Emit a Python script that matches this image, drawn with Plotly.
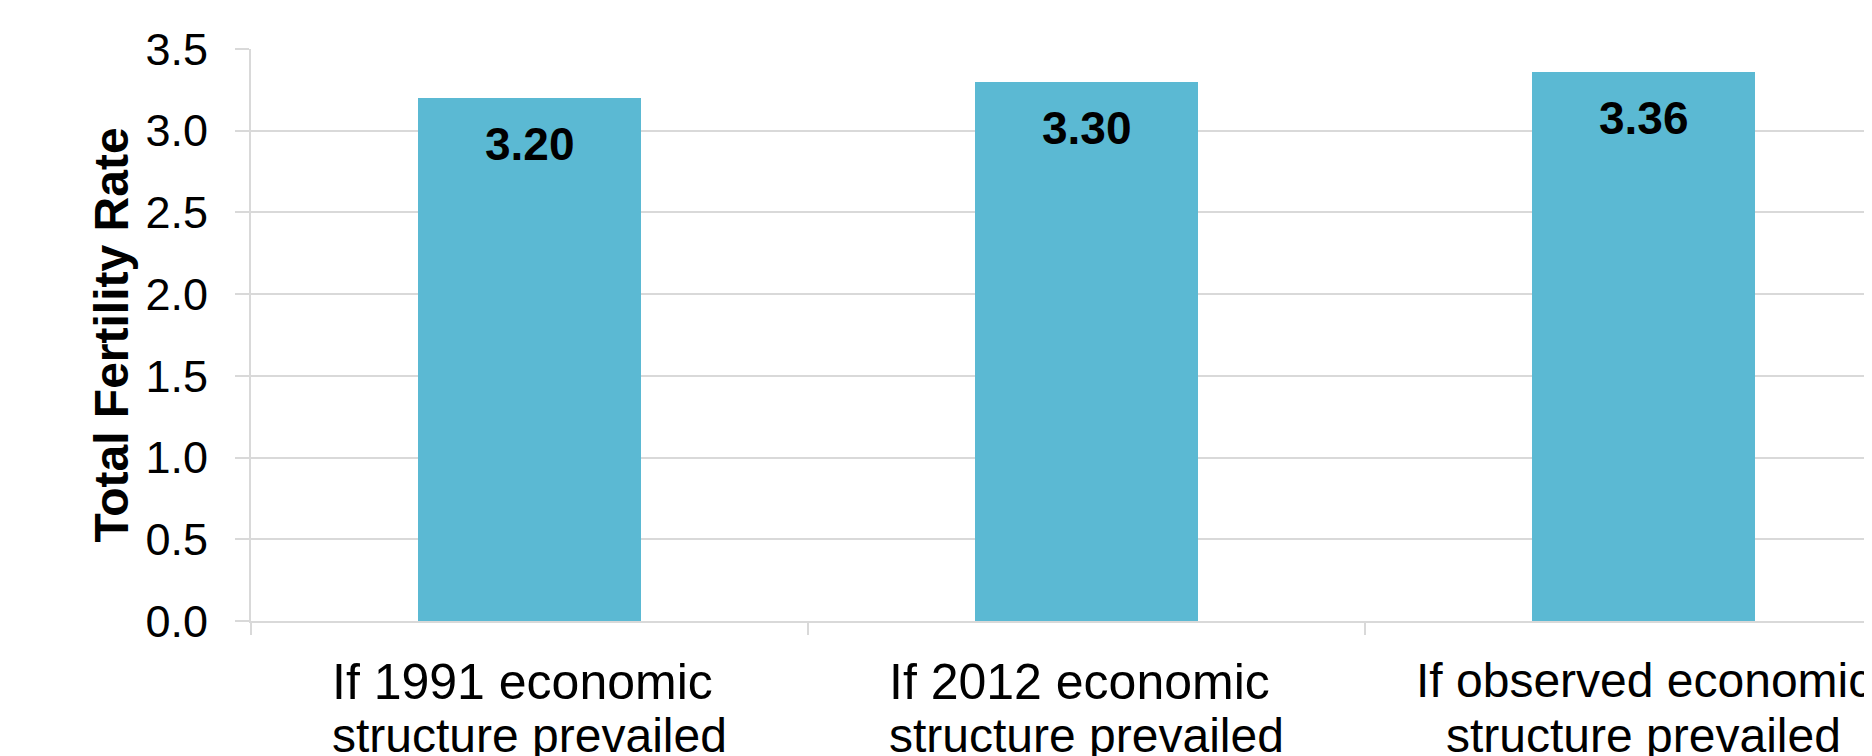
import plotly.graph_objects as go

categories = ["If 1991 economic structure prevailed",
              "If 2012 economic structure prevailed",
              "If observed economic structure prevailed"]
label_line1 = ["If 1991 economic", "If 2012 economic", "If observed economic"]
label_line2 = ["structure prevailed", "structure prevailed", "structure prevailed"]
tfr_values = [3.20, 3.30, 3.36]
y_ticks = [0.0, 0.5, 1.0, 1.5, 2.0, 2.5, 3.0, 3.5]
y_title = "Total Fertility Rate"

FONT = "Liberation Sans, Arial, sans-serif"
BAR = "#5bb9d3"
GRID = "#d9d9d9"
LINE1_SIZE = [50, 50, 48]
LINE1_SHIFT = [-7, -7, 0]

fig = go.Figure()
fig.add_trace(go.Bar(
    x=categories, y=tfr_values, width=0.402,
    marker=dict(color=BAR, line=dict(width=0)),
    hoverinfo="skip", showlegend=False,
))

for c, v in zip(categories, tfr_values):
    fig.add_annotation(
        x=c, y=v, xref="x", yref="y",
        text=f"<b>{v:.2f}</b>", showarrow=False,
        yanchor="top", yshift=-18,
        font=dict(family=FONT, size=46, color="black"),
    )

# two-line category labels (tight line spacing as in the reference)
for c, l1, l2, s1, dx in zip(categories, label_line1, label_line2, LINE1_SIZE, LINE1_SHIFT):
    fig.add_annotation(
        x=c, y=0, xref="x", yref="y", text=l1, showarrow=False,
        yanchor="top", yshift=-31, xshift=dx,
        font=dict(family=FONT, size=s1, color="black"),
    )
    fig.add_annotation(
        x=c, y=0, xref="x", yref="y", text=l2, showarrow=False,
        yanchor="top", yshift=-86,
        font=dict(family=FONT, size=48, color="black"),
    )

fig.update_layout(
    width=1872, height=756,
    margin=dict(l=243, r=0, t=41, b=143),
    paper_bgcolor="white", plot_bgcolor="white",
    font=dict(family=FONT, color="black"),
    bargap=0,
)
fig.update_xaxes(
    type="category",
    range=[-0.5, 2.4246],
    tickson="boundaries", ticks="outside", ticklen=12, tickwidth=2, tickcolor=GRID,
    showline=True, linecolor=GRID, linewidth=2,
    showgrid=False, zeroline=False,
    showticklabels=False,
    automargin=False,
)
fig.update_yaxes(
    range=[0, 3.5],
    tickmode="array", tickvals=y_ticks, ticktext=[f"{t:.1f}" for t in y_ticks],
    ticks="outside", ticklen=14, tickwidth=2, tickcolor=GRID,
    showline=True, linecolor=GRID, linewidth=2,
    showgrid=True, gridcolor=GRID, gridwidth=2, zeroline=False,
    tickfont=dict(family=FONT, size=45, color="black"),
    ticklabelstandoff=18,
    automargin=False,
    title=dict(text=f"<b>{y_title}</b>", standoff=2,
               font=dict(family=FONT, size=48, color="black")),
)

fig.write_html("out.html")
